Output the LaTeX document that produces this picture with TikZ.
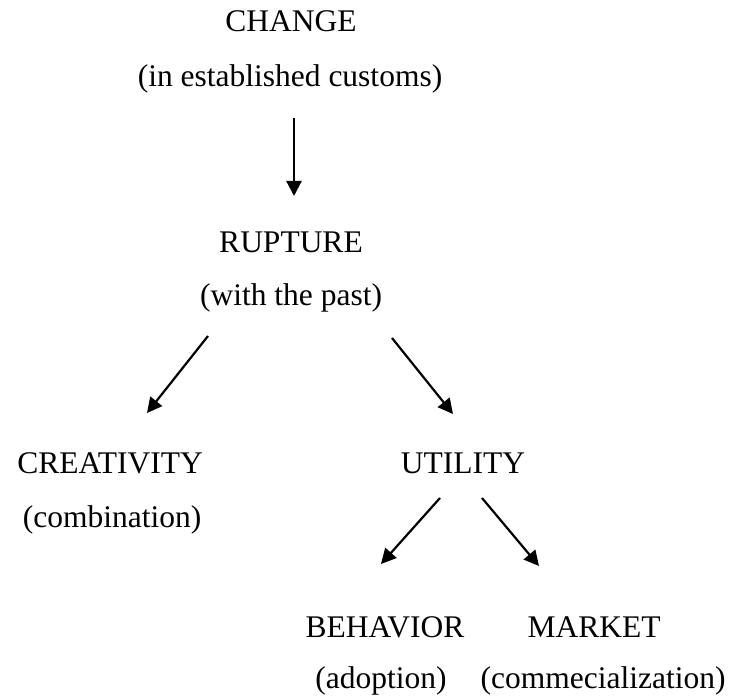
\documentclass[tikz,border=0pt]{standalone}
\usepackage{fontspec}
\setmainfont{Liberation Serif}
\usetikzlibrary{arrows.meta}
\begin{document}
\begin{tikzpicture}[x=1pt,y=-1pt,
    ord/.style={anchor=base,inner sep=0pt,font=\fontsize{31.5}{38}\selectfont},
    pil/.style={line width=2.2pt,-{Triangle[length=15pt,width=15pt]}}]
    \useasboundingbox (0,0) rectangle (731,700);

    %Tekst
        \node[ord] (change) at (291,32) {CHANGE};
        \node[ord] (changesub) at (290,87) {(in established customs)};
        \node[ord] (rupture) at (291,253) {RUPTURE};
        \node[ord] (rupturesub) at (291,306) {(with the past)};
        \node[ord] (creativity) at (110,473) {CREATIVITY};
        \node[ord] (creativitysub) at (112,527) {(combination)};
        \node[ord] (utility) at (463,473) {UTILITY};
        \node[ord] (behavior) at (385,637) {BEHAVIOR};
        \node[ord] (behaviorsub) at (381,688) {(adoption)};
        \node[ord] (market) at (594,637) {MARKET};
        \node[ord] (marketsub) at (603,688) {(commecialization)};

    %Piler
        \coordinate (a1) at (294,118);
        \coordinate (a2) at (294,196);
        \coordinate (b1) at (208,336);
        \coordinate (b2) at (147,413);
        \coordinate (c1) at (392,338);
        \coordinate (c2) at (453,414);
        \coordinate (d1) at (440,498);
        \coordinate (d2) at (381,564);
        \coordinate (e1) at (482,498);
        \coordinate (e2) at (539,566);
        \draw[pil] (a1)--(a2);
        \draw[pil] (b1)--(b2);
        \draw[pil] (c1)--(c2);
        \draw[pil] (d1)--(d2);
        \draw[pil] (e1)--(e2);

        %
\end{tikzpicture}
\end{document}
